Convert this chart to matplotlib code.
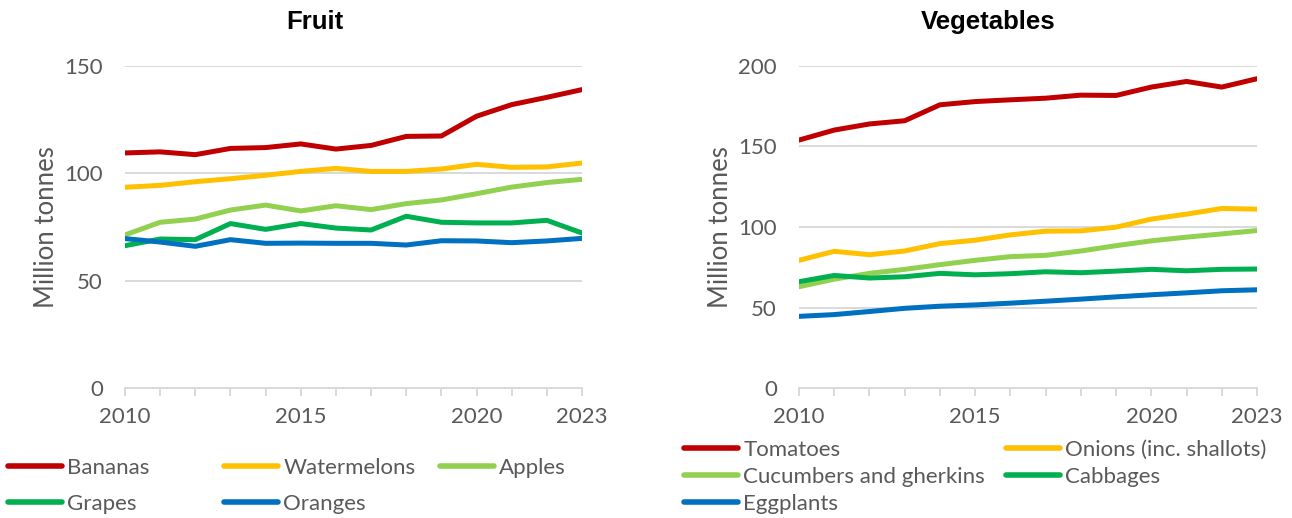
import matplotlib
matplotlib.use("Agg")
import matplotlib.pyplot as plt
from matplotlib.lines import Line2D

years = list(range(2010, 2024))

# Fruit production, million tonnes
bananas = [109.5, 110.0, 108.7, 111.6, 112.0, 113.7, 111.3, 113.0, 117.2, 117.4, 126.6, 132.0, 135.4, 139.0]
watermelons = [93.5, 94.4, 96.1, 97.5, 99.1, 100.9, 102.3, 100.9, 100.9, 102.0, 104.2, 102.8, 103.0, 104.8]
apples = [71.3, 77.2, 78.7, 82.9, 85.2, 82.5, 84.9, 83.1, 85.9, 87.6, 90.5, 93.6, 95.7, 97.2]
grapes = [66.3, 69.4, 69.1, 76.6, 73.9, 76.6, 74.5, 73.6, 80.0, 77.2, 76.9, 76.9, 78.1, 72.2]
oranges = [69.6, 68.0, 66.0, 69.1, 67.4, 67.5, 67.4, 67.4, 66.6, 68.6, 68.5, 67.7, 68.5, 69.7]

# Vegetable production, million tonnes
tomatoes = [154.0, 160.2, 164.0, 166.0, 175.9, 177.9, 179.0, 180.0, 181.9, 181.7, 186.9, 190.4, 186.9, 192.1]
onions = [79.3, 84.9, 82.8, 85.1, 89.7, 91.8, 95.1, 97.4, 97.6, 99.9, 104.9, 108.0, 111.5, 111.1]
cucumbers = [62.9, 67.6, 71.2, 73.7, 76.6, 79.3, 81.6, 82.4, 85.1, 88.4, 91.4, 93.7, 95.7, 97.8]
cabbages = [66.0, 69.9, 68.3, 69.1, 71.2, 70.3, 71.0, 72.2, 71.6, 72.6, 73.7, 72.8, 73.7, 73.9]
eggplants = [44.5, 45.6, 47.5, 49.5, 50.8, 51.6, 52.7, 53.9, 55.2, 56.6, 57.9, 59.1, 60.4, 61.0]

fruit_series = [("Bananas", bananas), ("Watermelons", watermelons), ("Apples", apples),
                ("Grapes", grapes), ("Oranges", oranges)]
veg_series = [("Tomatoes", tomatoes), ("Onions (inc. shallots)", onions),
              ("Cucumbers and gherkins", cucumbers), ("Cabbages", cabbages),
              ("Eggplants", eggplants)]

RED, YELLOW, LGREEN, GREEN, BLUE = "#C00000", "#FFC000", "#92D050", "#00B050", "#0070C0"
colors = [RED, YELLOW, LGREEN, GREEN, BLUE]
GRID = "#D9D9D9"
TXT = "#595959"

plt.rcParams["font.family"] = ["Lato", "DejaVu Sans"]

W, H = 1292, 518
fig = plt.figure(figsize=(W / 100, H / 100), dpi=100)


def px_axes(x0, x1, y0, y1):
    return fig.add_axes([x0 / W, 1 - y1 / H, (x1 - x0) / W, (y1 - y0) / H])


def style_panel(ax, ymax, step):
    ax.set_xlim(years[0], years[-1])
    ax.set_ylim(0, ymax)
    ax.set_yticks(range(0, ymax + 1, step))
    ax.set_xticks(years)
    ax.set_xticklabels([str(y) if y in (2010, 2015, 2020, 2023) else "" for y in years])
    ax.grid(axis="y", color=GRID, linewidth=1.4)
    ax.set_axisbelow(True)
    for s in ("top", "right", "left"):
        ax.spines[s].set_visible(False)
    ax.spines["bottom"].set_color(GRID)
    ax.spines["bottom"].set_linewidth(1.4)
    ax.tick_params(axis="x", direction="out", length=5.5, width=1.4, color=GRID,
                   labelsize=16, labelcolor=TXT, pad=8)
    ax.tick_params(axis="y", length=0, labelsize=16, labelcolor=TXT, pad=16)
    ax.set_ylabel("Million tonnes", fontsize=18.5, color=TXT, labelpad=4)


ax1 = px_axes(125, 582, 66, 388)
for (name, vals), c in zip(fruit_series, colors):
    ax1.plot(years, vals, color=c, linewidth=3.6, solid_capstyle="round", label=name)
style_panel(ax1, 150, 50)

ax2 = px_axes(799, 1257, 66, 388)
for (name, vals), c in zip(veg_series, colors):
    ax2.plot(years, vals, color=c, linewidth=3.6, solid_capstyle="round", label=name)
style_panel(ax2, 200, 50)

fig.text(315 / W, 1 - 22 / H, "Fruit", ha="center", va="center", fontsize=18.5,
         fontweight="bold", family="Liberation Sans")
fig.text(988 / W, 1 - 22 / H, "Vegetables", ha="center", va="center", fontsize=18.5,
         fontweight="bold", family="Liberation Sans")

# legend entries placed on an even grid, one small legend per entry
fruit_pos = [(8, 468), (224, 468), (440, 468), (8, 504), (224, 504)]
veg_pos = [(684, 450), (1006, 450), (684, 477), (1006, 477), (684, 504)]
for series, pos in ((fruit_series, fruit_pos), (veg_series, veg_pos)):
    for (name, _), c, (x, y) in zip(series, colors, pos):
        h = Line2D([], [], color=c, linewidth=4, solid_capstyle="round")
        fig.legend(handles=[h], labels=[name], loc="center left",
                   bbox_to_anchor=(x / W, 1 - y / H), frameon=False,
                   fontsize=16, labelcolor=TXT, handlelength=2.45,
                   handletextpad=0.22, borderpad=0, borderaxespad=0)

fig.savefig("out.png", dpi=100)
